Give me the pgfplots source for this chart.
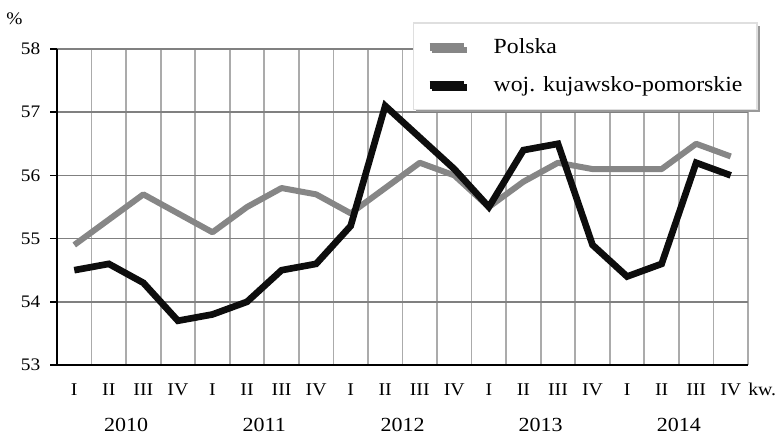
\documentclass[border=0pt]{standalone}
\usepackage{fontspec}
\setmainfont{Liberation Serif}[FakeStretch=1.1]
\usepackage{pgfplots}
\pgfplotsset{compat=1.18}
\usetikzlibrary{shadows}
\definecolor{plgray}{HTML}{868686}
\definecolor{hgrid}{HTML}{808080}
\definecolor{vgrid}{HTML}{ABABAB}
\definecolor{kpblack}{HTML}{0D0D0D}
\begin{document}
\begin{tikzpicture}
\useasboundingbox (-42.75pt,-52.5pt) rectangle (540.75pt,273.75pt);
\begin{axis}[
  at={(0,0)}, anchor=south west,
  scale only axis, width=518.25pt, height=237pt,
  xmin=0.5, xmax=20.5, ymin=53, ymax=58,
  axis x line*=bottom, axis y line*=left,
  axis line style={black, line width=1.5pt},
  x axis line style={-}, y axis line style={-},
  xtick={1,...,20},
  xticklabels={I,II,III,IV,I,II,III,IV,I,II,III,IV,I,II,III,IV,I,II,III,IV},
  minor xtick={1.5,2.5,...,20.5},
  xminorgrids, xmajorgrids=false,
  ymajorgrids,
  ytick={53,54,...,58},
  tick align=outside,
  major tick length=5pt,
  x tick style={draw=none},
  minor x tick style={draw=none},
  y tick style={black, line width=1.2pt},
  minor grid style={vgrid, line width=1.3pt},
  major grid style={hgrid, line width=1.3pt},
  yticklabel style={font=\fontsize{13.2}{15}\selectfont, anchor=east, xshift=-4pt},
  /pgf/number format/assume math mode=true,
  xticklabel style={font=\fontsize{13.5}{15}\selectfont, anchor=base, yshift=-18.25pt},
  clip=false,
  legend style={at={(0.515,1.085)}, anchor=north west,
    draw=gray!25, line width=1.2pt, fill=white,
    drop shadow={shadow xshift=2pt, shadow yshift=-2pt, fill=gray!80, opacity=1},
    font=\fontsize{16.2}{18}\selectfont,
    inner xsep=9pt, inner ysep=10pt,
    row sep=11.5pt,
    /tikz/every odd column/.append style={column sep=17pt}},
  legend cell align=left,
  legend image code/.code={\draw[#1, line width=6pt, line cap=butt] (0pt,0pt) -- (26pt,0pt);},
]
\addplot[plgray, line width=4.5pt, line join=round] coordinates {
(1,54.9) (2,55.3) (3,55.7) (4,55.4) (5,55.1) (6,55.5) (7,55.8) (8,55.7) (9,55.4) (10,55.8)
(11,56.2) (12,56.0) (13,55.5) (14,55.9) (15,56.2) (16,56.1) (17,56.1) (18,56.1) (19,56.5) (20,56.3)};
\addlegendentry{Polska}
\addplot[kpblack, line width=5pt, line join=miter] coordinates {
(1,54.5) (2,54.6) (3,54.3) (4,53.7) (5,53.8) (6,54.0) (7,54.5) (8,54.6) (9,55.2) (10,57.1)
(11,56.6) (12,56.1) (13,55.5) (14,56.4) (15,56.5) (16,54.9) (17,54.4) (18,54.6) (19,56.2) (20,56.0)};
\addlegendentry{woj. kujawsko-pomorskie}
\node[font=\fontsize{15}{15}\selectfont, anchor=base, inner sep=0pt] at (axis cs:2.5,53) [yshift=-49.5pt] {2010};
\node[font=\fontsize{15}{15}\selectfont, anchor=base, inner sep=0pt] at (axis cs:6.5,53) [yshift=-49.5pt] {2011};
\node[font=\fontsize{15}{15}\selectfont, anchor=base, inner sep=0pt] at (axis cs:10.5,53) [yshift=-49.5pt] {2012};
\node[font=\fontsize{15}{15}\selectfont, anchor=base, inner sep=0pt] at (axis cs:14.5,53) [yshift=-49.5pt] {2013};
\node[font=\fontsize{15}{15}\selectfont, anchor=base, inner sep=0pt] at (axis cs:18.5,53) [yshift=-49.5pt] {2014};
\node[font=\fontsize{13.5}{15}\selectfont, anchor=base west, inner xsep=0pt] at (axis cs:20.5,53) [yshift=-23.25pt] {kw.};
\node[font=\fontsize{13.2}{15}\selectfont] at (axis cs:0.5,58) [xshift=-32pt, yshift=23pt] {\%};
\end{axis}
\end{tikzpicture}
\end{document}
